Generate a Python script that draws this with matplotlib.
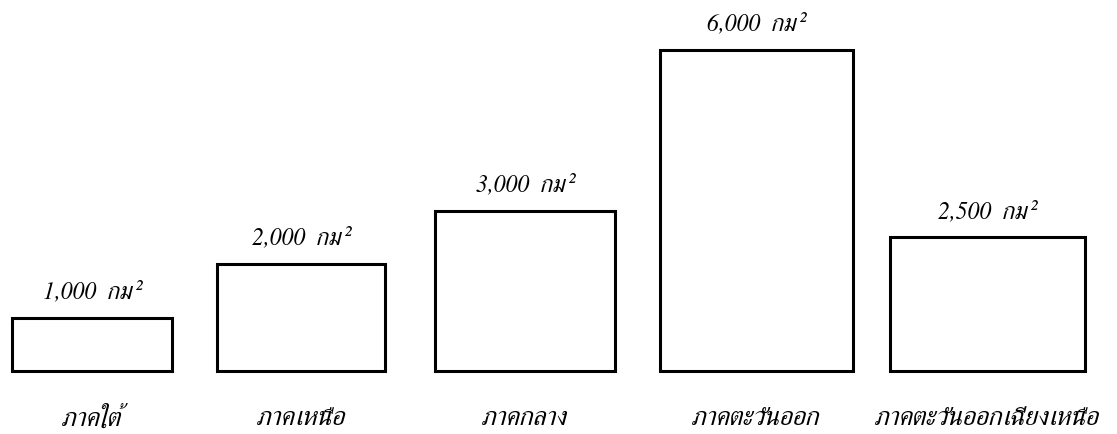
import matplotlib
matplotlib.use("Agg")
import matplotlib.pyplot as plt

# พื้นที่แต่ละภาค (ตารางกิโลเมตร)
regions = ['ภาคใต้', 'ภาคเหนือ', 'ภาคกลาง', 'ภาคตะวันออก', 'ภาคตะวันออกเฉียงเหนือ']
areas = [1000, 2000, 3000, 6000, 2500]
area_labels = ['1,000', '2,000', '3,000', '6,000', '2,500']

# layout in pixels (figure is 1117 x 435)
W, H = 1117, 435
centers = [92, 301, 525, 756, 987]
widths = [160, 168, 180, 193, 195]
base_px = 63          # baseline height from the bottom
px_per_unit = 0.0535  # pixels per km2

plt.rcParams['font.family'] = ['FreeSerif', 'Taviraj', 'DejaVu Serif']
plt.rcParams['font.style'] = 'italic'

fig = plt.figure(figsize=(W / 100, H / 100), dpi=100)
ax = fig.add_axes([0, 0, 1, 1])
ax.set_xlim(0, W)
ax.set_ylim(-base_px / px_per_unit, (H - base_px) / px_per_unit)
ax.axis('off')

ax.bar(centers, areas, width=widths, fill=False, edgecolor='black', linewidth=2.2)

for x, a, lab in zip(centers, areas, area_labels):
    ax.annotate(lab + '  กม²', (x, a), xytext=(0, 11), textcoords='offset points',
                ha='center', va='bottom', fontsize=17, style='italic')

for x, r in zip(centers, regions):
    ax.annotate(r, (x, 0), xytext=(0, -25), textcoords='offset points',
                ha='center', va='top', fontsize=19, style='italic')

fig.savefig('out.png', dpi=100)
